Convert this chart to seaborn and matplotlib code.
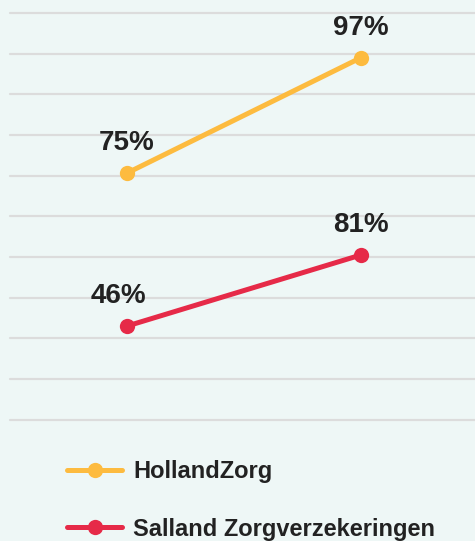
import matplotlib
matplotlib.use("Agg")
import matplotlib.pyplot as plt
from matplotlib.lines import Line2D
import pandas as pd
import seaborn as sns

# two measurement moments, no tick labels shown
moments = [0, 1]
insurers = ["HollandZorg", "Salland Zorgverzekeringen"]
# plotted level on the (unlabelled) grid
holland_level = [60.6, 89.0]
salland_level = [23.0, 40.5]
# printed labels
holland_pct = [75, 97]
salland_pct = [46, 81]

colors = {"HollandZorg": "#fdbb3f", "Salland Zorgverzekeringen": "#e62a48"}
bg = "#eef7f6"

df = pd.DataFrame({
    "moment": moments * 2,
    "level": holland_level + salland_level,
    "pct": holland_pct + salland_pct,
    "insurer": [insurers[0]] * 2 + [insurers[1]] * 2,
})

sns.set_theme(style="white")
plt.rcParams["font.family"] = ["Liberation Sans", "DejaVu Sans"]

fig = plt.figure(figsize=(4.75, 5.41), dpi=100, facecolor=bg)
ax = fig.add_axes([10 / 475, 0.2242, 465 / 475, 0.7518])
ax.set_facecolor(bg)

sns.lineplot(data=df, x="moment", y="level", hue="insurer", palette=colors,
             marker="o", markersize=11, markeredgewidth=0, linewidth=3.6,
             legend=False, ax=ax, zorder=3)

ax.set_xlim(-0.498, 1.487)
ax.set_ylim(0, 100)
ax.set_yticks(range(0, 101, 10))
ax.set_xticks([])
ax.yaxis.grid(True, color="#dcdcdc", linewidth=1.6)
for gl in ax.get_ygridlines():
    gl.set_clip_on(False)
ax.tick_params(left=False, labelleft=False)
ax.set_xlabel("")
ax.set_ylabel("")
for s in ax.spines.values():
    s.set_visible(False)

# value labels above each point
for _, r in df.iterrows():
    dx = -6 if r["pct"] == 46 else 0
    ax.annotate(f"{r['pct']}%", (r["moment"], r["level"]), xytext=(dx, 16.5),
                textcoords="offset points", ha="center", va="baseline",
                fontsize=20, fontweight="bold", color="#222222")

handles = [Line2D([0], [0], color=colors[n], linewidth=3.6, marker="o",
                  markersize=11, markeredgewidth=0, solid_capstyle="round")
           for n in insurers]
leg = fig.legend(handles, insurers, loc="upper left",
                 bbox_to_anchor=(0.141, 0.149), frameon=False,
                 prop={"size": 17, "weight": "bold"}, handlelength=2.35,
                 handletextpad=0.45, labelspacing=1.45, borderpad=0,
                 borderaxespad=0)
for t in leg.get_texts():
    t.set_color("#222222")

fig.savefig("out.png", dpi=100, facecolor=bg)
